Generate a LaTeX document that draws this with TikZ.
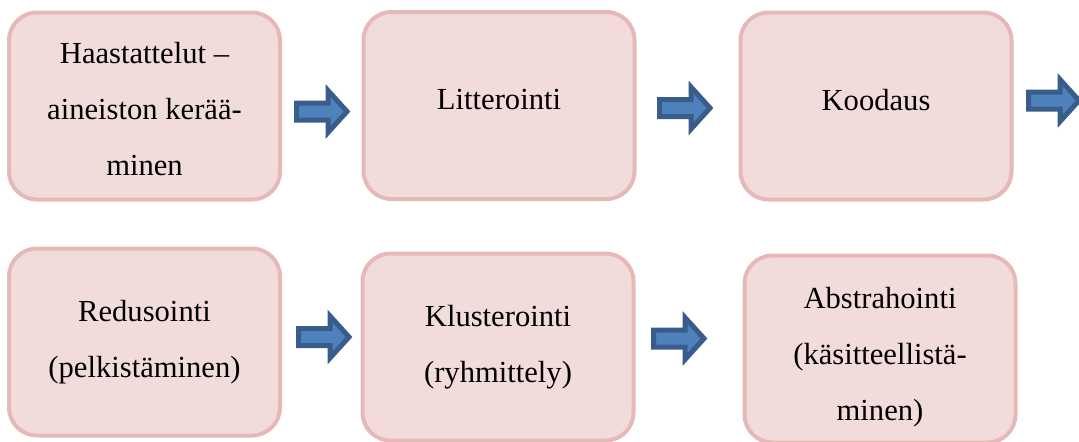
\documentclass[tikz,border=0pt]{standalone}
\usepackage{fontspec}
\setmainfont{Liberation Serif}

\begin{document}
\begin{tikzpicture}[x=0.5pt,y=-0.5pt,
        vaihe/.style={draw=reuna,fill=tausta,line width=2pt,rounded corners=14pt,
            minimum width=135.5pt,minimum height=93.5pt,inner sep=0pt,align=center,
            font=\fontsize{15.3}{28}\selectfont},
        yksirivi/.style={vaihe,text depth=6pt},
        nuoli/.pic={\draw[nuolireuna,fill=nuolisisus,line width=2.5pt]
            (2.5,-8.5) -- (34,-8.5) -- (34,-21) -- (53,0) -- (34,21) -- (34,8.5) -- (2.5,8.5) -- cycle;}]
        %varit
        \definecolor{tausta}{RGB}{242,220,219}
        \definecolor{reuna}{RGB}{230,185,184}
        \definecolor{nuolisisus}{RGB}{79,129,189}
        \definecolor{nuolireuna}{RGB}{56,93,138}

        \useasboundingbox (0,0) rectangle (1079,441);

        % Rivi 1
        \node[vaihe] (haast) at (144.5,106) {\rule{0pt}{14pt}Haastattelut –\\aineiston kerää-\\minen};
        \node[yksirivi] (litt) at (499,105.5) {Litterointi};
        \node[yksirivi] (kood) at (876,106) {Koodaus};

        % Rivi 2
        \node[vaihe] (redus) at (144.5,342) {Redusointi\\(pelkistäminen)};
        \node[vaihe] (klust) at (498,347) {Klusterointi\\(ryhmittely)};
        \node[vaihe] (abstr) at (880,349) {\rule{0pt}{18.5pt}Abstrahointi\\(käsitteellistä-\\minen)};

        % Nuolet
        \pic at (294,111.5) {nuoli};
        \pic at (657,108) {nuoli};
        \pic at (1026,100.5) {nuoli};
        \pic at (296,337) {nuoli};
        \pic at (651,338.5) {nuoli};
    \end{tikzpicture}
\end{document}
